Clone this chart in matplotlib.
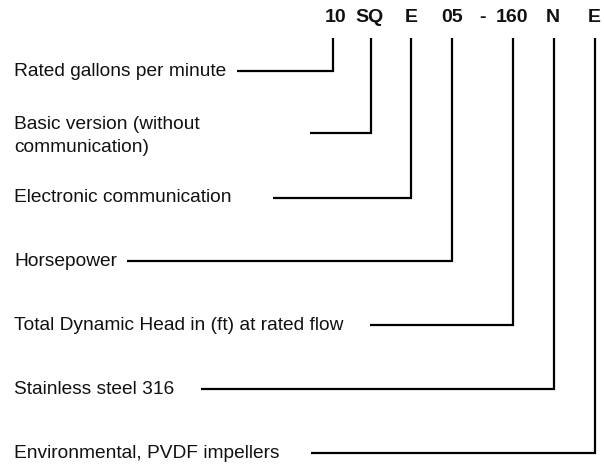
import matplotlib
matplotlib.use("Agg")
import matplotlib.pyplot as plt

# Code segments shown on top and their descriptions
codes = ["10", "SQ", "E", "05", "-", "160", "N", "E"]
descriptions = [
    "Rated gallons per minute",
    "Basic version (without\ncommunication)",
    "Electronic communication",
    "Horsepower",
    "Total Dynamic Head in (ft) at rated flow",
    "Stainless steel 316",
    "Environmental, PVDF impellers",
]
# which code each description points to
targets = [0, 1, 2, 3, 5, 6, 7]

# layout (pixel coordinates)
code_x = [336, 370, 411, 452, 482, 512, 553, 594]
drop_x = [333, 371, 411, 452, None, 513, 554, 595]
desc_y = [71, 136, 198, 261, 325, 389, 453]
line_y = [71, 133, 198, 261, 325, 389, 453]
line_x0 = [237, 310, 273, 127, 370, 201, 311]

fig = plt.figure(figsize=(6.04, 4.70), dpi=100)
ax = fig.add_axes([0, 0, 1, 1])
ax.set_xlim(0, 604)
ax.set_ylim(470, 0)
ax.axis("off")

font = ["Liberation Sans", "DejaVu Sans"]
for c, x in zip(codes, code_x):
    ax.text(x, 18, c, ha="center", va="center", fontsize=14,
            fontweight="bold", family=font, color="#111111")

for d, t, y, ly, x0 in zip(descriptions, targets, desc_y, line_y, line_x0):
    ax.text(14, y, d, ha="left", va="center", fontsize=13.8, family=font,
            color="#111111", linespacing=1.4)
    xd = drop_x[t]
    ax.plot([x0, xd, xd], [ly, ly, 38], color="black", lw=1.6,
            solid_joinstyle="miter", solid_capstyle="butt")

fig.savefig("out.png", dpi=100)
